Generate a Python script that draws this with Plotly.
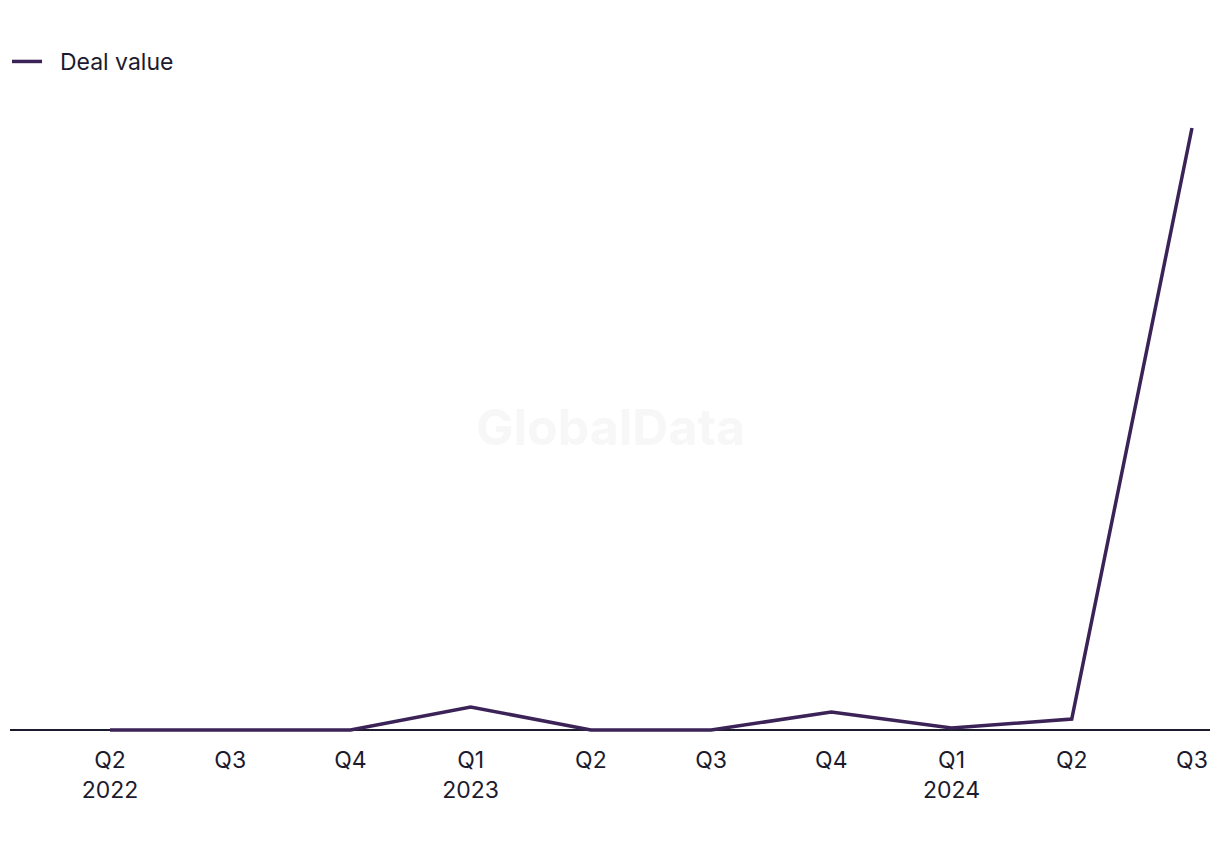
import plotly.graph_objects as go

quarters = ["Q2", "Q3", "Q4", "Q1", "Q2", "Q3", "Q4", "Q1", "Q2", "Q3"]
years = ["2022", "", "", "2023", "", "", "", "2024", "", ""]
deal_value = [0, 0, 0, 23, 0, 0, 18, 2, 11, 602]

tick_text = [q + ("<br>" + y if y else "") for q, y in zip(quarters, years)]
x_idx = list(range(len(quarters)))

fig = go.Figure()
fig.add_trace(go.Scatter(
    x=x_idx, y=deal_value, mode="lines", name="&nbsp;&nbsp;Deal value",
    line=dict(color="#3b2358", width=3.5),
))

fig.update_layout(
    width=1220, height=850,
    margin=dict(l=10, r=10, t=100, b=110),
    paper_bgcolor="white", plot_bgcolor="white",
    font=dict(family="Inter, Noto Sans, sans-serif", size=23, color="#1c1b2e"),
    showlegend=True,
    legend=dict(x=7 / 1220, y=1 - 40 / 850, xref="container", yref="container",
                xanchor="left", yanchor="top",
                orientation="h", font=dict(size=23, color="#1c1b2e"),
                bgcolor="rgba(0,0,0,0)"),
    xaxis=dict(
        tickmode="array", tickvals=x_idx, ticktext=tick_text,
        range=[-0.832, 9.15], showgrid=False, zeroline=False,
        showline=False, ticks="", fixedrange=True, ticklabelstandoff=4,
    ),
    yaxis=dict(range=[-10, 630], visible=True, showticklabels=False, showgrid=False,
               zeroline=True, zerolinecolor="#1c1b2e", zerolinewidth=2),
    annotations=[dict(
        text="<b>GlobalData</b>", x=0.5, y=303, xref="paper", yref="y",
        showarrow=False, font=dict(size=50, color="#f7f7f7", family="Inter, sans-serif"),
    )],
)

fig.write_html("out.html")
